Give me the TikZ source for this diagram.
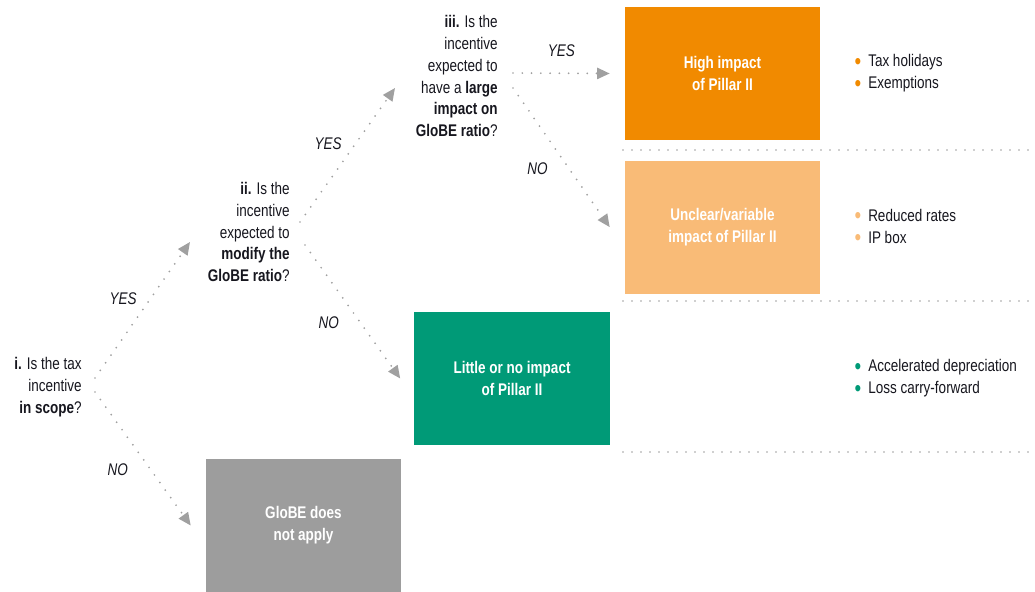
\documentclass[tikz,border=0pt]{standalone}
\usepackage{fontspec}
\setmainfont{Liberation Sans}[FakeStretch=0.8]
\usetikzlibrary{positioning, arrows.meta, calc}

\definecolor{pillarhigh}{HTML}{F18A00}
\definecolor{pillarmid}{HTML}{F9BB77}
\definecolor{pillarlow}{HTML}{009A77}
\definecolor{pillarnone}{HTML}{9D9D9D}
\definecolor{dotgray}{HTML}{A0A0A0}
\definecolor{inktext}{HTML}{16161E}

\newcommand{\pbul}[1]{\textcolor{#1}{\raisebox{-0.25ex}{\scalebox{1.4}{\textbullet}}}\hspace{5pt}}

\begin{document}
\begin{tikzpicture}[x=0.025cm, y=-0.025cm, font=\fontsize{12}{15.6}\selectfont,
  question/.style={align=right, inner sep=0pt, text=inktext},
  outcome/.style={minimum width=4.875cm, minimum height=3.325cm, inner sep=0pt, align=center, text=white, font=\fontsize{12}{15.6}\selectfont\bfseries},
  pointlist/.style={align=left, inner sep=0pt, text=inktext},
  flow/.style={dotgray, line width=1.4pt, line cap=round, dash pattern=on 0pt off 6.6pt, -{Triangle[length=9pt, width=8pt]}},
  answer/.style={font=\fontsize{12}{14}\selectfont\itshape, text=inktext, inner sep=2pt},
  separator/.style={dotgray, line width=1.2pt, line cap=round, dash pattern=on 0pt off 6.4pt}]
  \useasboundingbox (0,0) rectangle (1035,592);

  % questions
  \node[question, anchor=east] (qscope) at (82,387) {\textbf{i.} Is the tax\\incentive\\\textbf{in scope}?};
  \node[question, anchor=east] (qmodify) at (290,232) {\textbf{ii.} Is the\\incentive\\expected to\\\textbf{modify the}\\\textbf{GloBE ratio}?};
  \node[question, anchor=east] (qlarge) at (498,76) {\textbf{iii.} Is the\\incentive\\expected to\\have a \textbf{large}\\\textbf{impact on}\\\textbf{GloBE ratio}?};

  % outcomes
  \node[outcome, fill=pillarhigh] (high) at (722.5,73.5) {High impact\\of Pillar II};
  \node[outcome, fill=pillarmid, below=0.5cm of high] (unclear) {Unclear/variable\\impact of Pillar II};
  \node[outcome, fill=pillarlow] (little) at (512,378.5) {Little or no impact\\of Pillar II};
  \node[outcome, fill=pillarnone] (globe) at (303.5,525.5) {GloBE does\\not apply};

  % examples
  \node[pointlist, right=0.85cm of high] (exhigh) {\pbul{pillarhigh}Tax holidays\\\pbul{pillarhigh}Exemptions};
  \node[pointlist, right=0.85cm of unclear] (exmid) {\pbul{pillarmid}Reduced rates\\\pbul{pillarmid}IP box};
  \node[pointlist, anchor=west] (exlow) at (exmid.west |- little) {\pbul{pillarlow}Accelerated depreciation\\\pbul{pillarlow}Loss carry-forward};

  % separators
  \draw[separator] (623,150) -- (1035,150);
  \draw[separator] (623,301) -- (1035,301);
  \draw[separator] (623,452) -- (1035,452);

  % decision arrows
  \draw[flow] ($(qscope.east)+(13,-9)$) -- node[answer, midway, above left=2pt] {YES} ($(qmodify.east)+(-100,10)$);
  \draw[flow] ($(qscope.east)+(13,5)$) -- node[answer, midway, below left=1pt and 8pt] {NO} ($(globe.west)+(-15,0)$);
  \draw[flow] ($(qmodify.east)+(10,-10)$) -- node[answer, midway, above left=2pt] {YES} ($(qlarge.east)+(-103,12)$);
  \draw[flow] ($(qmodify.east)+(15,13)$) -- node[answer, midway, below left=1pt and 7pt] {NO} ($(little.west)+(-14,0)$);
  \draw[flow] ($(qlarge.east)+(15,-3)$) -- node[answer, midway, above=9pt] {YES} ($(high.west)+(-15,0)$);
  \draw[flow] ($(qlarge.east)+(15,12)$) -- node[answer, midway, below left=1pt and 7pt] {NO} ($(unclear.west)+(-15,0)$);
\end{tikzpicture}
\end{document}
